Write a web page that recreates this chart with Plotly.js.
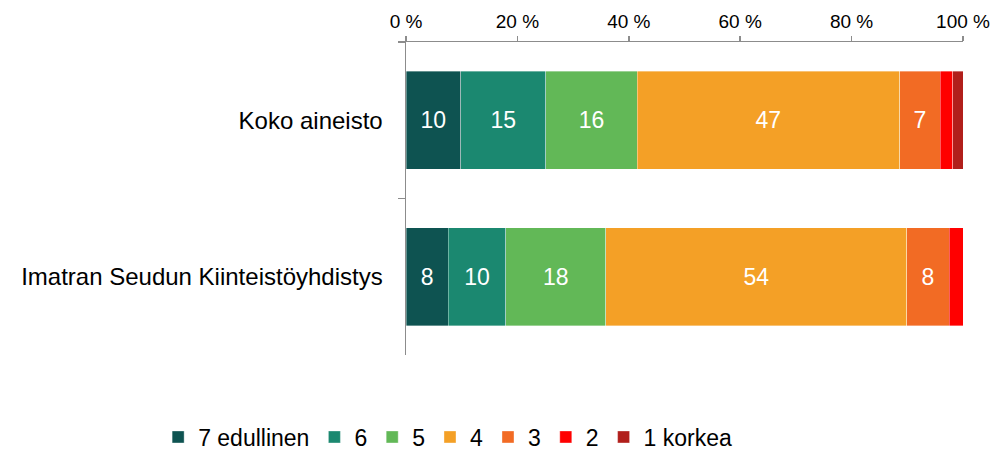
<!DOCTYPE html>
<html>
<head>
<meta charset="utf-8">
<script src="https://cdn.plot.ly/plotly-3.0.1.min.js"></script>
<style>
html,body{margin:0;padding:0;background:#fff;}
#chart{width:992px;height:451px;}
</style>
</head>
<body>
<div id="chart"></div>
<script>
const categories = ["Koko aineisto", "Imatran Seudun Kiinteistöyhdistys"];
const seriesNames = ["7 edullinen", "6", "5", "4", "3", "2", "1 korkea"];
const s7 = [9.8, 7.6];
const s6 = [15.3, 10.3];
const s5 = [16.4, 18.0];
const s4 = [47.1, 54.0];
const s3 = [7.3, 7.6];
const s2 = [2.3, 2.5];
const s1 = [1.8, 0.0];
const seriesValues = [s7, s6, s5, s4, s3, s2, s1];
const showLabels = [true, true, true, true, true, false, false];
const colors = ["#0e5351", "#1b8870", "#62b857", "#f4a026", "#f26b24", "#ff0000", "#b11f1b"];
const tickVals = [0, 20, 40, 60, 80, 100];
const tickText = ["0 %", "20 %", "40 %", "60 %", "80 %", "100 %"];

const FONT = "Liberation Sans, Arial, sans-serif";

const traces = seriesNames.map((name, i) => ({
  type: "bar",
  orientation: "h",
  name: name,
  y: categories,
  x: seriesValues[i],
  marker: {color: colors[i], line: {color: "rgba(255,255,255,0.45)", width: 0.8}},
  texttemplate: showLabels[i] ? "%{x:.0f}" : "",
  textposition: showLabels[i] ? "inside" : "none",
  insidetextanchor: "middle",
  textfont: {family: FONT, size: 23, color: "#ffffff"},
  constraintext: "none",
  hoverinfo: "x+name"
}));

const layout = {
  width: 992,
  height: 451,
  barmode: "stack",
  bargap: 0.373,
  paper_bgcolor: "#ffffff",
  plot_bgcolor: "#ffffff",
  margin: {l: 406, r: 29, t: 42, b: 96, pad: 0, autoexpand: false},
  font: {family: FONT, color: "#000000"},
  showlegend: true,
  legend: {
    orientation: "h",
    xref: "paper",
    yref: "paper",
    x: -0.445,
    xanchor: "left",
    y: -0.262,
    yanchor: "middle",
    font: {family: FONT, size: 23, color: "#000000"},
    traceorder: "normal",
    itemwidth: 30,
    tracegroupgap: 0
  },
  xaxis: {
    side: "top",
    range: [0, 100],
    tickvals: tickVals,
    ticktext: tickText,
    showgrid: false,
    zeroline: false,
    showline: true,
    linecolor: "#8c8c8c",
    linewidth: 1.5,
    ticks: "outside",
    ticklen: 5,
    tickwidth: 1.5,
    tickcolor: "#8c8c8c",
    tickfont: {family: FONT, size: 19, color: "#000000"},
    fixedrange: true
  },
  yaxis: {
    type: "category",
    autorange: "reversed",
    showgrid: false,
    zeroline: false,
    showline: true,
    linecolor: "#8c8c8c",
    linewidth: 1.5,
    ticks: "outside",
    tickson: "boundaries",
    ticklen: 7,
    tickwidth: 1.5,
    tickcolor: "#8c8c8c",
    ticklabelstandoff: 17,
    tickfont: {family: FONT, size: 24, color: "#000000"},
    fixedrange: true
  }
};

Plotly.newPlot("chart", traces, layout, {displayModeBar: false, staticPlot: true});
</script>
</body>
</html>
